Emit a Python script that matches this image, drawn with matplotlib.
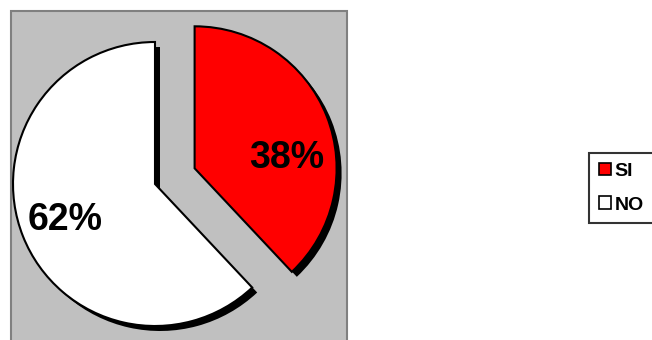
import matplotlib
matplotlib.use("Agg")
import matplotlib.pyplot as plt
from matplotlib.patches import Rectangle

plt.rcParams['font.family'] = ['Liberation Sans', 'DejaVu Sans']

# data
labels = ['SI', 'NO']
values = [38, 62]
colors = ['#ff0000', '#ffffff']
explode_frac = [0.3, 0.0]

W, H = 652, 340
fig = plt.figure(figsize=(W / 100, H / 100), dpi=100)
ax = fig.add_axes([0, 0, 1, 1])
ax.set_xlim(0, W)
ax.set_ylim(0, H)
ax.set_aspect('equal')
ax.axis('off')

# plot area (gray, cut at bottom)
ax.add_patch(Rectangle((11, -5), 336, H - 11 + 5, facecolor='#c0c0c0',
                       edgecolor='#808080', linewidth=1.5, zorder=0))

center = (155, 156)
radius = 142
# pie explode is in data units, so scale by radius
explode = [f * radius for f in explode_frac]

# shadow
ax.pie(values, colors=['black'] * len(values), explode=explode,
       startangle=90, counterclock=False, radius=radius,
       center=(center[0] + 5, center[1] - 5),
       wedgeprops=dict(linewidth=0), frame=True)

wedges, texts, autotexts = ax.pie(
    values, colors=colors, explode=explode, startangle=90,
    counterclock=False, radius=radius, center=center,
    autopct='%d%%', pctdistance=0.68, frame=True,
    wedgeprops=dict(edgecolor='black', linewidth=1.5),
    textprops=dict(fontsize=27, fontweight='bold', color='black'))

# Excel-like placement of the red label
autotexts[0].set_position((287, H - 158))

ax.set_xlim(0, W)
ax.set_ylim(0, H)
ax.axis('off')

# legend box runs past the right edge of the image, as in the original
leg = ax.legend(wedges, labels, loc='upper left',
                bbox_to_anchor=(589 / W, 1 - 153 / H, 80 / W, 0),
                bbox_transform=fig.transFigure, mode='expand',
                frameon=True, fancybox=False, edgecolor='black',
                prop=dict(size=14, weight='bold'),
                handlelength=0.62, handleheight=0.62, handletextpad=0.2,
                labelspacing=0.85, borderpad=0.5, borderaxespad=0)
leg.get_frame().set_linewidth(1.5)
for h in leg.legend_handles:
    h.set_linewidth(1.2)

fig.savefig('out.png', dpi=100)
